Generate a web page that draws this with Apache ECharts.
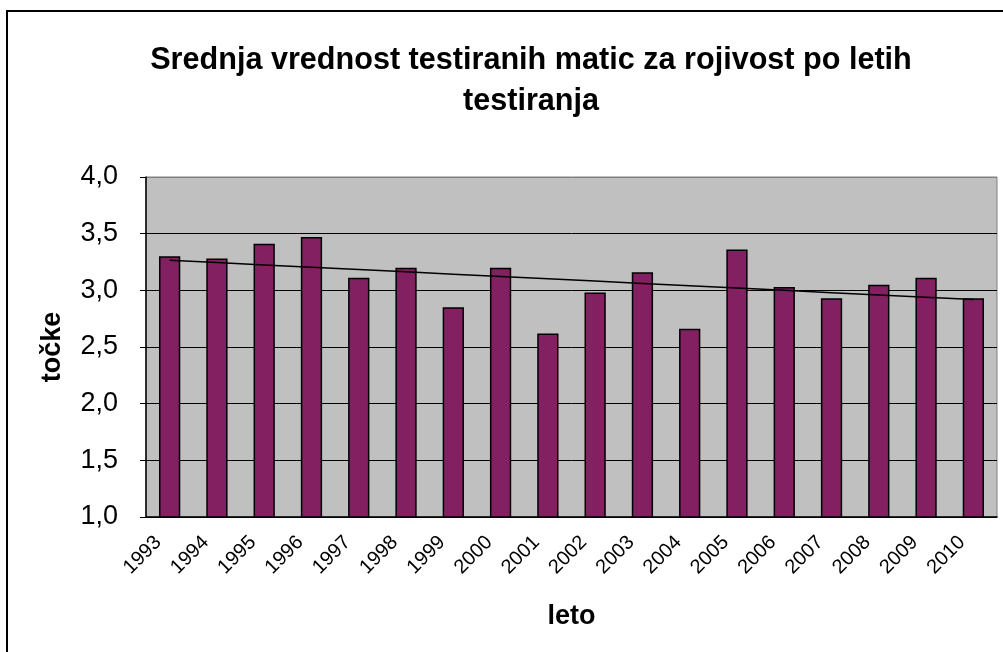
<!DOCTYPE html>
<html>
<head>
<meta charset="utf-8">
<script src="https://cdn.jsdelivr.net/npm/echarts@6/dist/echarts.min.js"></script>
<style>
html, body { margin: 0; padding: 0; background: #fff; }
#main { width: 1003px; height: 652px; }
</style>
</head>
<body>
<div id="main"></div>
<script>
var years = ['1993','1994','1995','1996','1997','1998','1999','2000','2001',
	'2002','2003','2004','2005','2006','2007','2008','2009','2010'];
var tocke = [3.30, 3.28, 3.41, 3.47, 3.11, 3.20, 2.85, 3.20, 2.62,
	2.98, 3.16, 2.66, 3.36, 3.03, 2.93, 3.05, 3.11, 2.93];
var yTicks = ['1,0','1,5','2,0','2,5','3,0','3,5','4,0'];

// linearni trend (kot v Excelu)
var n = tocke.length, sx = 0, sy = 0, sxy = 0, sxx = 0;
for (var i = 0; i < n; i++) {
	sx += i; sy += tocke[i]; sxy += i * tocke[i]; sxx += i * i;
}
var k = (n * sxy - sx * sy) / (n * sxx - sx * sx);
var b = (sy - k * sx) / n;
var trend = tocke.map(function (v, i) { return +(k * i + b).toFixed(4); });

var font = 'Liberation Sans, Arial, sans-serif';

var option = {
	animation: false,
	title: {
		text: 'Srednja vrednost testiranih matic za rojivost po letih\ntestiranja',
		left: 526,
		textAlign: 'center',
		top: 35,
		textStyle: {
			fontFamily: font,
			fontSize: 30.6,
			fontWeight: 'bold',
			color: '#000',
			lineHeight: 41
		}
	},
	graphic: [{
		type: 'rect',
		shape: { x: 7, y: 11, width: 1010, height: 700 },
		style: { fill: 'none', stroke: '#000', lineWidth: 2 },
		silent: true
	}],
	grid: {
		left: 146,
		right: 6,
		top: 177,
		bottom: 135,
		show: true,
		backgroundColor: '#C0C0C0',
		borderColor: '#808080',
		borderWidth: 1
	},
	xAxis: {
		type: 'category',
		data: years,
		name: 'leto',
		nameLocation: 'middle',
		nameGap: 86,
		nameTextStyle: { fontFamily: font, fontSize: 27, fontWeight: 'bold', color: '#000' },
		axisLine: { lineStyle: { color: '#000', width: 1.5 } },
		axisTick: { length: 6, lineStyle: { color: '#000' } },
		axisLabel: {
			rotate: 45,
			interval: 0,
			margin: 11,
			padding: [0, 16, 0, 0],
			fontFamily: font,
			fontSize: 20,
			color: '#000'
		}
	},
	yAxis: {
		type: 'value',
		min: 1,
		max: 4,
		interval: 0.5,
		name: 'točke',
		nameLocation: 'middle',
		nameGap: 80,
		nameTextStyle: { fontFamily: font, fontSize: 27, fontWeight: 'bold', color: '#000' },
		axisLine: { show: true, lineStyle: { color: '#000', width: 1.5 } },
		axisTick: { show: true, length: 6, lineStyle: { color: '#000' } },
		axisLabel: {
			margin: 28,
			fontFamily: font,
			fontSize: 27,
			color: '#000',
			formatter: function (v) { return yTicks[Math.round((v - 1) / 0.5)]; }
		},
		splitLine: {
			lineStyle: {
				color: ['#000','#000','#000','#000','#000','#000','#808080'],
				width: 1
			}
		}
	},
	series: [{
		name: 'točke',
		type: 'bar',
		data: tocke,
		barWidth: '45%',
		itemStyle: { color: '#822062', borderColor: '#000', borderWidth: 1.5 }
	}, {
		name: 'trend',
		type: 'line',
		data: trend,
		symbol: 'none',
		lineStyle: { color: '#000', width: 1.5 },
		z: 5
	}]
};
var myChart = echarts.init(document.getElementById('main'));
myChart.setOption(option);
</script>
</body>
</html>
